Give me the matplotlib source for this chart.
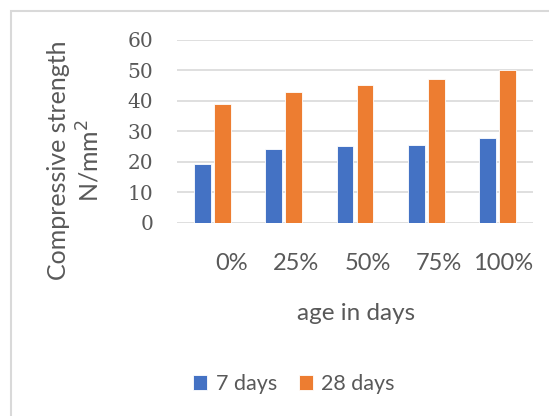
import matplotlib
matplotlib.use("Agg")
import matplotlib.pyplot as plt
import numpy as np
from matplotlib.patches import Rectangle

plt.rcParams["font.family"] = ["Lato", "DejaVu Sans"]

categories = ["0%", "25%", "50%", "75%", "100%"]
days7 = [19.2, 24.3, 25.1, 25.6, 27.8]
days28 = [39.1, 43.0, 45.1, 47.2, 50.1]
series_names = ["7 days", "28 days"]

BLUE = "#4472C4"
ORANGE = "#ED7D31"
TXT = "#595959"
GRID = "#D9D9D9"

fig = plt.figure(figsize=(5.49, 4.16), dpi=100)
ax = fig.add_axes([177 / 549, 1 - 222.7 / 416, (533 - 177) / 549, (222.7 - 40) / 416])

x = np.arange(len(categories))
w = 0.235
ax.bar(x - 0.14, days7, w, color=BLUE, edgecolor="white", linewidth=0.6, label=series_names[0], zorder=3)
ax.bar(x + 0.14, days28, w, color=ORANGE, edgecolor="white", linewidth=0.6, label=series_names[1], zorder=3)

ax.set_xlim(-0.5, len(categories) - 0.5)
ax.set_ylim(0, 60)
ax.set_yticks(np.arange(0, 61, 10))
ax.yaxis.grid(True, color=GRID, linewidth=1.2, zorder=0)
ax.set_axisbelow(True)
for s in ax.spines.values():
    s.set_visible(False)

ax.tick_params(axis="y", length=0, pad=17, labelsize=14.5, labelcolor=TXT)
for lab in ax.get_yticklabels():
    lab.set_family(["DejaVu Serif"])

# category labels sit right-aligned at the category boundary
ax.set_xticks(x + 0.5)
ax.set_xticklabels(categories, ha="right")
ax.tick_params(axis="x", length=0, pad=22, labelsize=17, labelcolor=TXT)

fig.text(356 / 549, 1 - 313 / 416, "age in days", ha="center", va="center", fontsize=17.5, color=TXT)
fig.text(58 / 549, 1 - 160 / 416, "Compressive strength", ha="center", va="center",
         rotation=90, fontsize=18, color=TXT)
fig.text(90 / 549, 1 - 160 / 416, "N/mm$^2$", ha="center", va="center",
         rotation=90, fontsize=18, color=TXT)

leg = fig.legend(loc="center", bbox_to_anchor=(294 / 549, 1 - 384 / 416), ncol=2, frameon=False,
                 fontsize=15.5, handlelength=0.65, handleheight=0.65, handletextpad=0.4,
                 columnspacing=1.0, labelcolor=TXT)

# light chart-area frame running off the right and bottom edges
fig.patches.append(Rectangle((11 / 549, -0.05), 1.2, 1 - 11 / 416 + 0.05, transform=fig.transFigure,
                             fill=False, edgecolor=GRID, linewidth=1.5))

fig.savefig("out.png", dpi=100)
